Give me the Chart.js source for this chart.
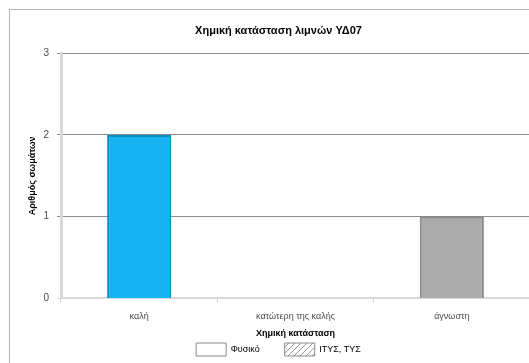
<!DOCTYPE html>
<html>
<head>
<meta charset="utf-8">
<script src="https://cdn.jsdelivr.net/npm/chart.js@4/dist/chart.umd.min.js"></script>
<style>
  html, body { margin: 0; padding: 0; background: #fff; overflow: hidden; }
  #wrap {
    position: absolute; left: 9px; top: 9px;
    width: 520px; height: 354px;
    border-top: 1px solid #b4b4b4; border-left: 1px solid #b4b4b4;
  }
</style>
</head>
<body>
<div id="wrap"><canvas id="chartLimnes" width="520" height="354"></canvas></div>
<script>
const katigories = ['καλή', 'κατώτερη της καλής', 'άγνωστη'];
const fysiko = [2, 0, 1];
const itysTys = [0, 0, 0];
const xromataFysiko = ['#16b4f2', '#16b4f2', '#ababab'];
const perigrammaFysiko = ['#0c8fc4', '#0c8fc4', '#8a8a8a'];

// diagonal hatch for the ΙΤΥΣ, ΤΥΣ series
function hatch() {
    const c = document.createElement('canvas');
    c.width = 6; c.height = 6;
    const g = c.getContext('2d');
    g.fillStyle = '#fff';
    g.fillRect(0, 0, 6, 6);
    g.strokeStyle = '#9a9a9a';
    g.lineWidth = 1;
    g.beginPath();
    g.moveTo(0, 6); g.lineTo(6, 0);
    g.moveTo(-1, 1); g.lineTo(1, -1);
    g.moveTo(5, 7); g.lineTo(7, 5);
    g.stroke();
    return g.createPattern(c, 'repeat');
}
const hatchPattern = hatch();

const ctxLimnes = document.getElementById('chartLimnes').getContext('2d');
const chart1 = new Chart(ctxLimnes, {
    type: 'bar',
    data: {
        labels: katigories,
        datasets: [{
            label: 'Φυσικό',
            data: fysiko,
            backgroundColor: xromataFysiko,
            borderColor: perigrammaFysiko,
            borderWidth: 2,
            barPercentage: 0.41,
            categoryPercentage: 1
        }, {
            label: 'ΙΤΥΣ, ΤΥΣ',
            data: itysTys,
            backgroundColor: hatchPattern,
            borderColor: '#8a8a8a',
            borderWidth: 0,
            barPercentage: 0.41,
            categoryPercentage: 1
        }]
    },
    options: {
        responsive: false,
        animation: false,
        layout: { padding: { left: 17, right: 0, top: 0, bottom: -2 } },
        scales: {
            x: {
                stacked: true,
                grid: { drawOnChartArea: false, color: '#d4d4d4', tickLength: 4 },
                border: { color: '#d9d9d9', width: 2 },
                ticks: { color: '#4a4a4a', font: { family: 'Liberation Sans', size: 9 }, padding: 9 },
                title: {
                    display: true, text: 'Χημική κατάσταση', color: '#000',
                    font: { family: 'Liberation Sans', size: 9, weight: 'bold' },
                    padding: { top: -3, bottom: -6 }
                }
            },
            y: {
                stacked: true,
                min: 0, max: 3,
                afterFit: s => { s.width = 34; },
                grid: {
                    color: ctx => ctx.tick && ctx.tick.value === 0 ? '#d9d9d9' : '#8c8c8c',
                    tickLength: 4
                },
                border: { color: '#d9d9d9', width: 3 },
                ticks: { stepSize: 1, color: '#4a4a4a', font: { family: 'Liberation Sans', size: 10 }, padding: 8 },
                title: {
                    display: true, text: 'Αριθμός σωμάτων', color: '#000',
                    font: { family: 'Liberation Sans', size: 9, weight: 'bold' },
                    padding: 0
                }
            }
        },
        plugins: {
            title: {
                display: true, text: 'Χημική κατάσταση λιμνών ΥΔ07', color: '#000',
                font: { family: 'Liberation Sans', size: 11, weight: 'bold' },
                padding: { top: 14, bottom: 16 }
            },
            tooltip: { enabled: false },
            legend: {
                position: 'bottom',
                labels: {
                    boxWidth: 30, boxHeight: 13, padding: 10,
                    color: '#333', font: { family: 'Liberation Sans', size: 9 },
                    // wider gap after the first entry
                    generateLabels: chart => [
                        { text: 'Φυσικό' + '\u00a0'.repeat(6), fillStyle: '#fff', strokeStyle: '#8a8a8a', lineWidth: 1, datasetIndex: 0 },
                        { text: 'ΙΤΥΣ, ΤΥΣ', fillStyle: hatchPattern, strokeStyle: '#8a8a8a', lineWidth: 1, datasetIndex: 1 }
                    ]
                }
            }
        }
    }
});
</script>
</body>
</html>
